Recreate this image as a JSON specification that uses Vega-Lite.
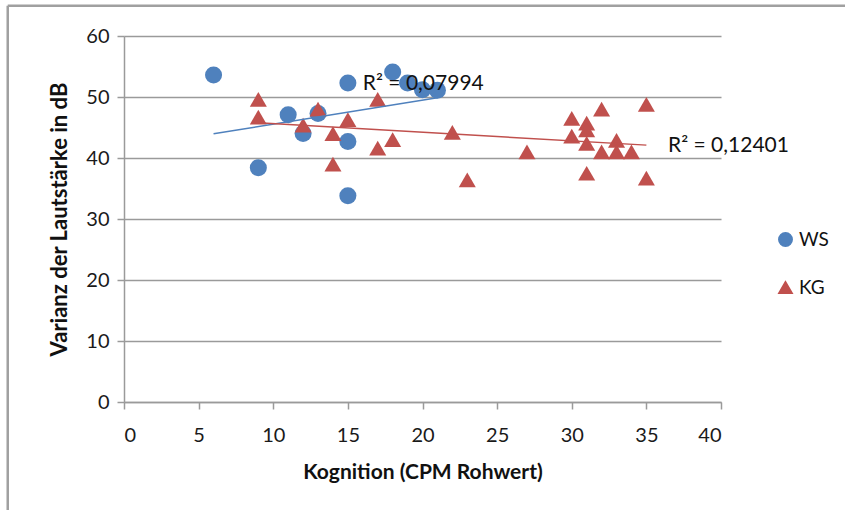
{
  "$schema": "https://vega.github.io/schema/vega-lite/v6.json",
  "autosize": {"type": "none"},
  "padding": {"left": 124, "top": 36, "right": 124, "bottom": 108},
  "width": 597,
  "height": 366,
  "background": "white",
  "config": {
    "font": "Lato",
    "view": {"stroke": null},
    "axis": {
      "domainColor": "#9a9a9a",
      "domainWidth": 1.5,
      "tickColor": "#9a9a9a",
      "tickWidth": 1.5,
      "tickSize": 7,
      "labelFont": "Lato",
      "labelFontSize": 20,
      "labelColor": "#1a1a1a",
      "titleFont": "Lato",
      "titleFontSize": 21,
      "titleFontWeight": "bold",
      "titleColor": "#111111"
    }
  },
  "datasets": {
    "punkte": [
      {"gruppe": "WS", "kognition": 6, "varianz": 53.6},
      {"gruppe": "WS", "kognition": 9, "varianz": 38.4},
      {"gruppe": "WS", "kognition": 11, "varianz": 47.1},
      {"gruppe": "WS", "kognition": 12, "varianz": 44.0},
      {"gruppe": "WS", "kognition": 13, "varianz": 47.3},
      {"gruppe": "WS", "kognition": 15, "varianz": 52.3},
      {"gruppe": "WS", "kognition": 15, "varianz": 42.7},
      {"gruppe": "WS", "kognition": 15, "varianz": 33.8},
      {"gruppe": "WS", "kognition": 18, "varianz": 54.1},
      {"gruppe": "WS", "kognition": 19, "varianz": 52.3},
      {"gruppe": "WS", "kognition": 20, "varianz": 51.2},
      {"gruppe": "WS", "kognition": 21, "varianz": 51.1},
      {"gruppe": "KG", "kognition": 9, "varianz": 49.6},
      {"gruppe": "KG", "kognition": 9, "varianz": 46.7},
      {"gruppe": "KG", "kognition": 12, "varianz": 45.4},
      {"gruppe": "KG", "kognition": 13, "varianz": 48.0},
      {"gruppe": "KG", "kognition": 14, "varianz": 44.0},
      {"gruppe": "KG", "kognition": 14, "varianz": 39.0},
      {"gruppe": "KG", "kognition": 15, "varianz": 46.3},
      {"gruppe": "KG", "kognition": 17, "varianz": 49.6},
      {"gruppe": "KG", "kognition": 17, "varianz": 41.6},
      {"gruppe": "KG", "kognition": 18, "varianz": 43.0},
      {"gruppe": "KG", "kognition": 22, "varianz": 44.2},
      {"gruppe": "KG", "kognition": 23, "varianz": 36.4},
      {"gruppe": "KG", "kognition": 27, "varianz": 41.0},
      {"gruppe": "KG", "kognition": 30, "varianz": 46.5},
      {"gruppe": "KG", "kognition": 30, "varianz": 43.6},
      {"gruppe": "KG", "kognition": 31, "varianz": 45.7},
      {"gruppe": "KG", "kognition": 31, "varianz": 44.6},
      {"gruppe": "KG", "kognition": 31, "varianz": 42.4},
      {"gruppe": "KG", "kognition": 31, "varianz": 37.5},
      {"gruppe": "KG", "kognition": 32, "varianz": 48.0},
      {"gruppe": "KG", "kognition": 32, "varianz": 41.0},
      {"gruppe": "KG", "kognition": 33, "varianz": 42.9},
      {"gruppe": "KG", "kognition": 33, "varianz": 41.0},
      {"gruppe": "KG", "kognition": 34, "varianz": 41.0},
      {"gruppe": "KG", "kognition": 35, "varianz": 48.8},
      {"gruppe": "KG", "kognition": 35, "varianz": 36.7}
    ],
    "bestimmtheit": [
      {"label": "R² = 0,07994", "kognition": 16.0, "varianz": 52.1},
      {"label": "R² = 0,12401", "kognition": 36.45, "varianz": 41.95}
    ]
  },
  "layer": [
    {
      "data": {"name": "punkte"},
      "mark": {"type": "point", "filled": true, "opacity": 1, "size": 290},
      "encoding": {
        "x": {
          "field": "kognition",
          "type": "quantitative",
          "scale": {"domain": [0, 40], "nice": false, "zero": false},
          "axis": {
            "title": "Kognition (CPM Rohwert)",
            "values": [0, 5, 10, 15, 20, 25, 30, 35, 40],
            "grid": false,
            "labelPadding": 16,
            "titlePadding": 16
          }
        },
        "y": {
          "field": "varianz",
          "type": "quantitative",
          "scale": {"domain": [0, 60], "nice": false, "zero": false},
          "axis": {
            "title": "Varianz der Lautstärke in dB",
            "titleFontSize": 22,
            "values": [0, 10, 20, 30, 40, 50, 60],
            "grid": true,
            "gridColor": "#9a9a9a",
            "gridWidth": 1.5,
            "labelPadding": 8,
            "titlePadding": 14
          }
        },
        "color": {
          "field": "gruppe",
          "type": "nominal",
          "scale": {"domain": ["WS", "KG"], "range": ["#4F81BD", "#C0504D"]},
          "legend": {
            "title": null,
            "orient": "none",
            "legendX": 652,
            "legendY": 194,
            "labelFont": "Lato",
            "labelFontSize": 19,
            "labelColor": "#111111",
            "symbolSize": 180,
            "rowPadding": 28,
            "labelOffset": 4
          }
        },
        "shape": {
          "field": "gruppe",
          "type": "nominal",
          "scale": {"domain": ["WS", "KG"], "range": ["circle", "triangle-up"]},
          "legend": null
        }
      }
    },
    {
      "data": {"name": "punkte"},
      "transform": [
        {"regression": "varianz", "on": "kognition", "groupby": ["gruppe"]}
      ],
      "mark": {"type": "line", "strokeWidth": 1.5},
      "encoding": {
        "x": {"field": "kognition", "type": "quantitative"},
        "y": {"field": "varianz", "type": "quantitative"},
        "detail": {"field": "gruppe", "type": "nominal"},
        "stroke": {
          "field": "gruppe",
          "type": "nominal",
          "scale": {"domain": ["WS", "KG"], "range": ["#4F81BD", "#C0504D"]},
          "legend": null
        }
      }
    },
    {
      "data": {"name": "bestimmtheit"},
      "mark": {"type": "text", "align": "left", "baseline": "middle", "font": "Lato", "fontSize": 21, "color": "#111111"},
      "encoding": {
        "x": {"field": "kognition", "type": "quantitative"},
        "y": {"field": "varianz", "type": "quantitative"},
        "text": {"field": "label", "type": "nominal"}
      }
    },
    {
      "data": {"values": [{}]},
      "mark": {"type": "rule", "color": "#a0a0a0", "strokeWidth": 2.5},
      "encoding": {
        "x": {"datum": -7.79},
        "y": {"datum": 64.95},
        "y2": {"datum": -20}
      }
    },
    {
      "data": {"values": [{}]},
      "mark": {"type": "rule", "color": "#a0a0a0", "strokeWidth": 2.5},
      "encoding": {
        "x": {"datum": -7.79},
        "x2": {"datum": 50},
        "y": {"datum": 64.95}
      }
    }
  ]
}
